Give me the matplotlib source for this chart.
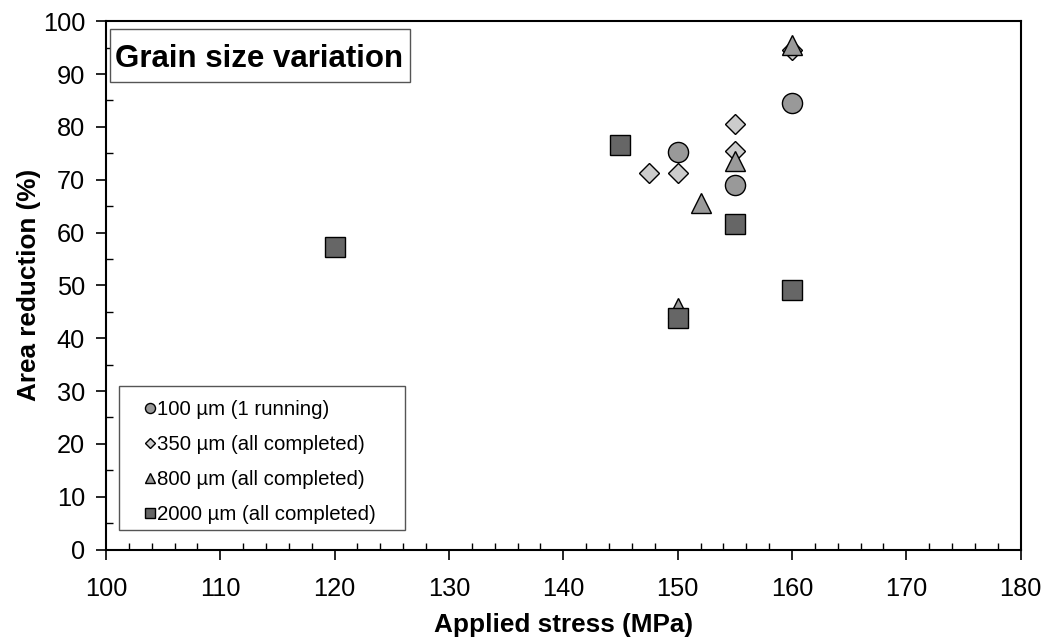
import matplotlib
matplotlib.use("Agg")
import matplotlib.pyplot as plt
from matplotlib.patches import Rectangle
from matplotlib.ticker import MultipleLocator

plt.rcParams['font.family'] = ['Liberation Sans', 'DejaVu Sans']

# grain size series
x_100 = [150, 155, 160]
y_100 = [75.3, 69.0, 84.6]

x_350 = [147.5, 150, 155, 155, 160]
y_350 = [71.2, 71.2, 80.5, 75.4, 94.5]

x_800 = [150, 152, 155, 160]
y_800 = [45.8, 65.6, 73.6, 95.5]

x_2000 = [120, 145, 150, 155, 160]
y_2000 = [57.3, 76.5, 43.9, 61.7, 49.1]

labels = ["100 µm (1 running)", "350 µm (all completed)",
          "800 µm (all completed)", "2000 µm (all completed)"]

fig = plt.figure(figsize=(10.49, 6.42), dpi=100)
ax = fig.add_axes([0.101, 0.144, 0.872, 0.823])

ax.plot(x_100, y_100, 'o', ms=14.5, mfc='#999999', mec='black', mew=1.0, label=labels[0])
ax.plot(x_350, y_350, 'D', ms=10.3, mfc='#cccccc', mec='black', mew=1.0, label=labels[1])
ax.plot(x_800, y_800, '^', ms=14.5, mfc='#9a9a9a', mec='black', mew=1.0, label=labels[2])
ax.plot(x_2000, y_2000, 's', ms=14.5, mfc='#666666', mec='black', mew=1.0, label=labels[3])

ax.set_xlim(100, 180)
ax.set_ylim(0, 100)
ax.xaxis.set_major_locator(MultipleLocator(10))
ax.xaxis.set_minor_locator(MultipleLocator(2))
ax.yaxis.set_major_locator(MultipleLocator(10))
ax.yaxis.set_minor_locator(MultipleLocator(5))

ax.tick_params(which='major', direction='out', length=7, width=1.2, labelsize=18.3)
ax.tick_params(which='minor', direction='in', length=5, width=1.0)
ax.tick_params(axis='x', which='major', pad=13)
ax.tick_params(axis='y', which='major', pad=8)
for sp in ax.spines.values():
    sp.set_linewidth(1.5)

ax.set_xlabel("Applied stress (MPa)", fontsize=18.8, fontweight='bold', labelpad=8.5)
ax.set_ylabel("Area reduction (%)", fontsize=18.8, fontweight='bold', labelpad=1)

# title box (frame drawn separately so the padding matches the excel look)
ax.add_patch(Rectangle((0.0044, 0.8846), 0.3278, 0.1003, transform=ax.transAxes,
                       fc='white', ec='#555555', lw=1.0, zorder=5))
ax.text(0.0098, 0.913, "Grain size variation", transform=ax.transAxes,
        fontsize=22.5, fontweight='bold', va='baseline', ha='left', zorder=6)

# legend box
ax.add_patch(Rectangle((0.0142, 0.0369), 0.3126, 0.2725, transform=ax.transAxes,
                       fc='white', ec='#555555', lw=1.0, zorder=5))
leg = ax.legend(loc='lower left', bbox_to_anchor=(0.0262, 0.0255), fontsize=14.7,
                markerscale=0.5, handlelength=0.8, handletextpad=-0.05,
                labelspacing=0.78, borderpad=0.6, frameon=False, borderaxespad=0)
leg.set_zorder(7)

fig.savefig("out.png", dpi=100)
